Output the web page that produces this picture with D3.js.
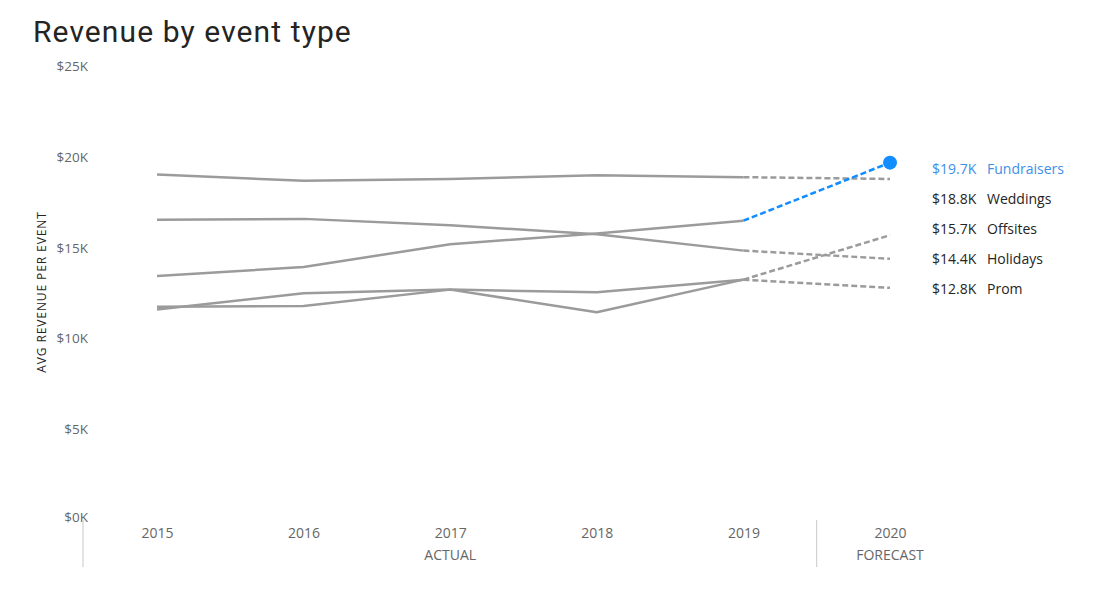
<!DOCTYPE html>
<html>
<head>
<meta charset="utf-8">
<script src="https://cdn.jsdelivr.net/npm/d3@7"></script>
<style>
  body { margin: 0; background: #fff; }
  svg { display: block; }
</style>
</head>
<body>
<div id="chart"></div>
<script>
// ----------------------------------
// DATA
// ----------------------------------
const years = [2015, 2016, 2017, 2018, 2019, 2020];
const actualYears = [2015, 2016, 2017, 2018, 2019];
const seriesNames = ['Fundraisers', 'Weddings', 'Offsites', 'Holidays', 'Prom'];

// values in $K, last value is the 2020 forecast
const fundraisers = [13.45, 13.95, 15.2, 15.8, 16.5, 19.7];
const weddings    = [19.05, 18.7, 18.8, 19.0, 18.9, 18.8];
const offsites    = [11.6, 12.5, 12.7, 12.55, 13.25, 15.7];
const holidays    = [16.55, 16.6, 16.25, 15.75, 14.85, 14.4];
const prom        = [11.75, 11.8, 12.7, 11.45, 13.25, 12.8];

const yTicks = [0, 5, 10, 15, 20, 25];
const highlight = 'Fundraisers';

const seriesValues = [fundraisers, weddings, offsites, holidays, prom];

const W = 1103, H = 615;
const grey = '#9b9b9b', blue = '#118DFF';

const svg = d3.select('#chart').append('svg')
  .attr('width', W)
  .attr('height', H);

// ----------------------------------
// SCALES
// ----------------------------------
const xScale = d3.scaleLinear().domain([2015, 2020]).range([157, 890]);
const yScale = d3.scaleLinear().domain([0, 25]).range([520, 66.5]);

// title
svg.append('text')
  .attr('x', 33)
  .attr('y', 42)
  .style('font-family', 'Roboto, "Open Sans", sans-serif')
  .style('font-size', '30px')
  .style('letter-spacing', '1.1px')
  .attr('fill', '#252423')
  .text('Revenue by event type');

// y axis
const yAxis = svg.append('g')
  .attr('transform', 'translate(88,0)')
  .call(d3.axisLeft(yScale).tickValues(yTicks).tickSize(0).tickPadding(0)
    .tickFormat(d => `$${d}K`));
yAxis.select('.domain').remove();
yAxis.selectAll('text')
  .style('font-family', '"Open Sans", sans-serif')
  .style('font-size', '13.5px')
  .attr('fill', '#666');
yAxis.selectAll('.tick').filter(d => d === 0).select('text').attr('dy', '0.1em');

svg.append('text')
  .attr('transform', `translate(46,${292}) rotate(-90)`)
  .attr('text-anchor', 'middle')
  .style('font-family', '"Open Sans", sans-serif')
  .style('font-size', '12px')
  .style('letter-spacing', '0.9px')
  .attr('fill', '#252423')
  .text('AVG REVENUE PER EVENT');

// x axis
const xAxis = svg.append('g')
  .attr('transform', 'translate(0,528)')
  .call(d3.axisBottom(xScale).tickValues(years).tickSize(0).tickPadding(0)
    .tickFormat(d3.format('d')));
xAxis.select('.domain').remove();
xAxis.selectAll('text')
  .style('font-family', '"Open Sans", sans-serif')
  .style('font-size', '14px')
  .attr('fill', '#666');

const groupLabels = [
  { text: 'ACTUAL', year: 2017 },
  { text: 'FORECAST', year: 2020 }
];
svg.selectAll('.group-label')
  .data(groupLabels)
  .join('text')
  .attr('class', 'group-label')
  .attr('x', d => xScale(d.year))
  .attr('y', 560)
  .attr('text-anchor', 'middle')
  .style('font-family', '"Open Sans", sans-serif')
  .style('font-size', '14px')
  .attr('fill', '#666')
  .text(d => d.text);

// separators
const sepX = [83, (xScale(2019) + xScale(2020)) / 2];
svg.selectAll('.sep')
  .data(sepX)
  .join('line')
  .attr('class', 'sep')
  .attr('x1', d => d).attr('x2', d => d)
  .attr('y1', 520).attr('y2', 567)
  .attr('stroke', '#c8c8c8')
  .attr('stroke-width', 1);

// ----------------------------------
// LINES
// ----------------------------------
const series = seriesNames.map((name, i) => ({
  name,
  values: years.map((yr, j) => ({ year: yr, value: seriesValues[i][j] }))
}));

const line = d3.line()
  .x(d => xScale(d.year))
  .y(d => yScale(d.value));

// draw highlight last so it sits on top
const ordered = series.slice().sort((a, b) => (a.name === highlight) - (b.name === highlight));

const lines = svg.append('g');
ordered.forEach(s => {
  const col = s.name === highlight ? blue : grey;
  const actual = s.values.filter(d => actualYears.includes(d.year));
  const forecast = s.values.slice(actual.length - 1);
  lines.append('path')
    .datum(actual)
    .attr('d', line)
    .attr('fill', 'none')
    .attr('stroke', grey)
    .attr('stroke-width', 2.5)
    .attr('stroke-linejoin', 'round');
  lines.append('path')
    .datum(forecast)
    .attr('d', line)
    .attr('fill', 'none')
    .attr('stroke', col)
    .attr('stroke-width', 2.5)
    .attr('stroke-dasharray', '6,3');
});

const hl = series.find(s => s.name === highlight);
const last = hl.values[hl.values.length - 1];
lines.append('circle')
  .attr('cx', xScale(last.year))
  .attr('cy', yScale(last.value))
  .attr('r', 7)
  .attr('fill', blue);

// ----------------------------------
// END LABELS
// ----------------------------------
const sorted = series.slice().sort((a, b) => b.values[5].value - a.values[5].value);
const labelTop = yScale(sorted[0].values[5].value) + 6;
const labels = svg.append('g')
  .style('font-family', '"Open Sans", sans-serif')
  .style('font-size', '14px');

sorted.forEach((s, i) => {
  const col = s.name === highlight ? '#3d8fe8' : '#252423';
  const y = labelTop + i * 30.2;
  labels.append('text')
    .attr('x', 932)
    .attr('y', y)
    .attr('dy', '0.35em')
    .attr('fill', col)
    .text(`$${s.values[5].value.toFixed(1)}K`);
  labels.append('text')
    .attr('x', 987)
    .attr('y', y)
    .attr('dy', '0.35em')
    .attr('fill', col)
    .text(s.name);
});
</script>
</body>
</html>
